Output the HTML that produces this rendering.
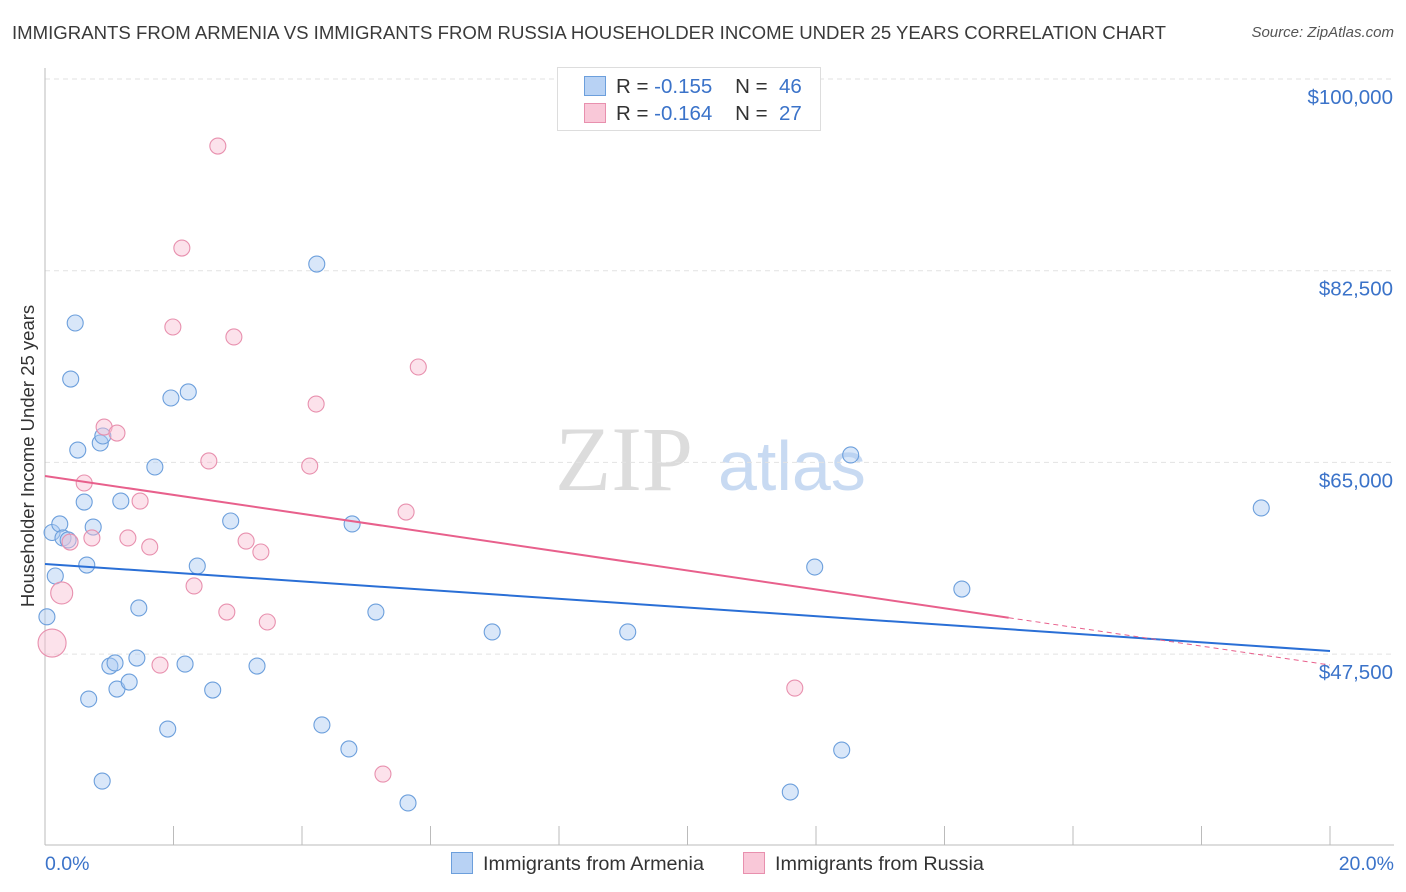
<!DOCTYPE html>
<html><head><meta charset="utf-8"><style>
body{margin:0;background:#fff;font-family:"Liberation Sans",sans-serif}
#wrap{position:relative;width:1406px;height:892px;overflow:hidden}
.t{position:absolute;white-space:nowrap}
</style></head><body>
<div id="wrap">
<div class="t" style="left:12px;top:22px;font-size:18.6px;color:#3a3a3a">IMMIGRANTS FROM ARMENIA VS IMMIGRANTS FROM RUSSIA HOUSEHOLDER INCOME UNDER 25 YEARS CORRELATION CHART</div>
<div class="t" style="right:12px;top:24px;font-size:15px;color:#555;font-style:italic">Source: ZipAtlas.com</div>
<svg id="svg" width="1406" height="892" style="position:absolute;left:0;top:0"></svg>
</div>
<script>
const xTicks=[0,2,4,6,8,10,12,14,16,18,20];
const yTicks=[47500,65000,82500,100000];
const yTickLabels=["$47,500","$65,000","$82,500","$100,000"];
const armeniaX=[0.03,0.11,0.16,0.23,0.28,0.36,0.47,0.40,0.51,0.61,0.65,0.68,0.75,0.86,0.90,0.89,1.01,1.09,1.12,1.18,1.31,1.43,1.46,1.71,1.91,1.96,2.18,2.23,2.37,2.61,2.89,3.30,4.23,4.31,4.73,4.78,5.15,5.65,6.96,9.07,11.60,11.98,12.40,12.54,14.27,18.93];
const armeniaY=[50900,58600,54630,59380,58100,57920,77725,72610,66130,61380,55630,43400,59100,66770,67410,35910,46410,46690,44310,61470,44950,47140,51710,64580,40660,70880,46590,71430,55540,44220,59650,46410,83110,41030,38840,59380,51340,33910,49520,49520,34910,55450,38740,65680,53440,60840];
const russiaX=[0.11,0.26,0.39,0.61,0.73,0.92,1.12,1.48,1.29,1.63,1.79,1.99,2.13,2.32,2.55,2.69,2.83,2.94,3.13,3.36,3.46,4.12,4.22,5.26,5.62,5.81,11.67];
const russiaY=[48510,53080,57730,63120,58100,68230,67680,61470,58100,57280,46500,77360,84570,53720,65130,93880,51340,76450,57820,56820,50430,64670,70330,36550,60470,73710,44400];
const russiaR=[14,11];
const armeniaTrend=[55725,47783];
const russiaTrend=[63758,46504];
const russiaSolidEnd=15.0;
const X=v=>45+v/20*1285;
const Y=v=>79+(100000-v)/17500*191.7;
const svg=document.getElementById('svg');
const NS='http://www.w3.org/2000/svg';
function mk(tag,at){const e=document.createElementNS(NS,tag);for(const k in at)e.setAttribute(k,at[k]);svg.appendChild(e);return e;}
let wm=mk('text',{x:555,y:490,'font-size':92,fill:'#dcdcdc','font-family':'Liberation Serif,serif'});wm.textContent='ZIP';


let wm2=mk('text',{x:718,y:490,'font-size':70,fill:'#c8daf2','font-family':'Liberation Sans,sans-serif'});wm2.textContent='atlas';


yTicks.forEach((t,i)=>{
 let g=mk('line',{x1:45,x2:1394,y1:Y(t),y2:Y(t),stroke:'#e2e2e2','stroke-dasharray':'5,4'});
 
 
 let l=mk('text',{x:1393,y:Y(t)+25,'text-anchor':'end','font-size':20.5,fill:'#3b73c9'});l.textContent=yTickLabels[i];
 
 
});
let ax=mk('line',{x1:45,x2:1394,y1:845,y2:845,stroke:'#bbb'});


let ay=mk('line',{x1:45,x2:45,y1:68,y2:845,stroke:'#bbb'});


xTicks.forEach(t=>{
 let k=mk('line',{x1:X(t),x2:X(t),y1:826,y2:845,stroke:'#bbb'});
 
 
});
[[0,'0.0%','start',45],[20,'20.0%','end',1394]].forEach(a=>{
 let l=mk('text',{x:a[3],y:870,'text-anchor':a[2],'font-size':19.5,fill:'#3b73c9'});l.textContent=a[1];
 
 
});
let yt=mk('text',{x:0,y:0,transform:'translate(34,456) rotate(-90)','text-anchor':'middle','font-size':18.5,fill:'#333'});yt.textContent='Householder Income Under 25 years';


armeniaX.forEach((x,i)=>{
 let c=mk('circle',{cx:X(x),cy:Y(armeniaY[i]),r:8,fill:'rgba(170,202,242,0.45)',stroke:'#6c9fdc','stroke-width':1.1});
 
 
});
russiaX.forEach((x,i)=>{
 let c=mk('circle',{cx:X(x),cy:Y(russiaY[i]),r:russiaR[i]||8,fill:'rgba(248,190,210,0.45)',stroke:'#e890ae','stroke-width':1.1});
 
 
});
let bt=mk('line',{x1:X(0),y1:Y(armeniaTrend[0]),x2:X(20),y2:Y(armeniaTrend[1]),stroke:'#2a6fd6','stroke-width':2});


const rMid=russiaTrend[0]+(russiaTrend[1]-russiaTrend[0])*russiaSolidEnd/20;
let pt=mk('line',{x1:X(0),y1:Y(russiaTrend[0]),x2:X(russiaSolidEnd),y2:Y(rMid),stroke:'#e8608c','stroke-width':2});


let pd=mk('line',{x1:X(russiaSolidEnd),y1:Y(rMid),x2:X(20),y2:Y(russiaTrend[1]),stroke:'#e8608c','stroke-width':1,'stroke-dasharray':'5,4'});


</script>
<div style="position:absolute;left:557px;top:67px;width:262px;height:62px;border:1px solid #ddd;background:#fff;font-size:20.5px;color:#333">
 <div style="position:absolute;left:26px;top:8px;width:20px;height:18px;background:#b8d2f4;border:1px solid #6c9fdc"></div>
 <div class="t" style="left:58px;top:7px">R = <span style="color:#3b73c9">-0.155</span>&nbsp;&nbsp;&nbsp;&nbsp;N = &nbsp;<span style="color:#3b73c9">46</span></div>
 <div style="position:absolute;left:26px;top:35px;width:20px;height:18px;background:#f9c8d8;border:1px solid #e890ae"></div>
 <div class="t" style="left:58px;top:34px">R = <span style="color:#3b73c9">-0.164</span>&nbsp;&nbsp;&nbsp;&nbsp;N = &nbsp;<span style="color:#3b73c9">27</span></div>
</div>
<div style="position:absolute;left:451px;top:852px;font-size:19.8px;color:#333">
 <span style="display:inline-block;width:20px;height:20px;background:#b8d2f4;border:1px solid #6c9fdc;vertical-align:-4px;margin-right:10px"></span>Immigrants from Armenia</div>
<div style="position:absolute;left:743px;top:852px;font-size:19.8px;color:#333">
 <span style="display:inline-block;width:20px;height:20px;background:#f9c8d8;border:1px solid #e890ae;vertical-align:-4px;margin-right:10px"></span>Immigrants from Russia</div>
</body></html>
